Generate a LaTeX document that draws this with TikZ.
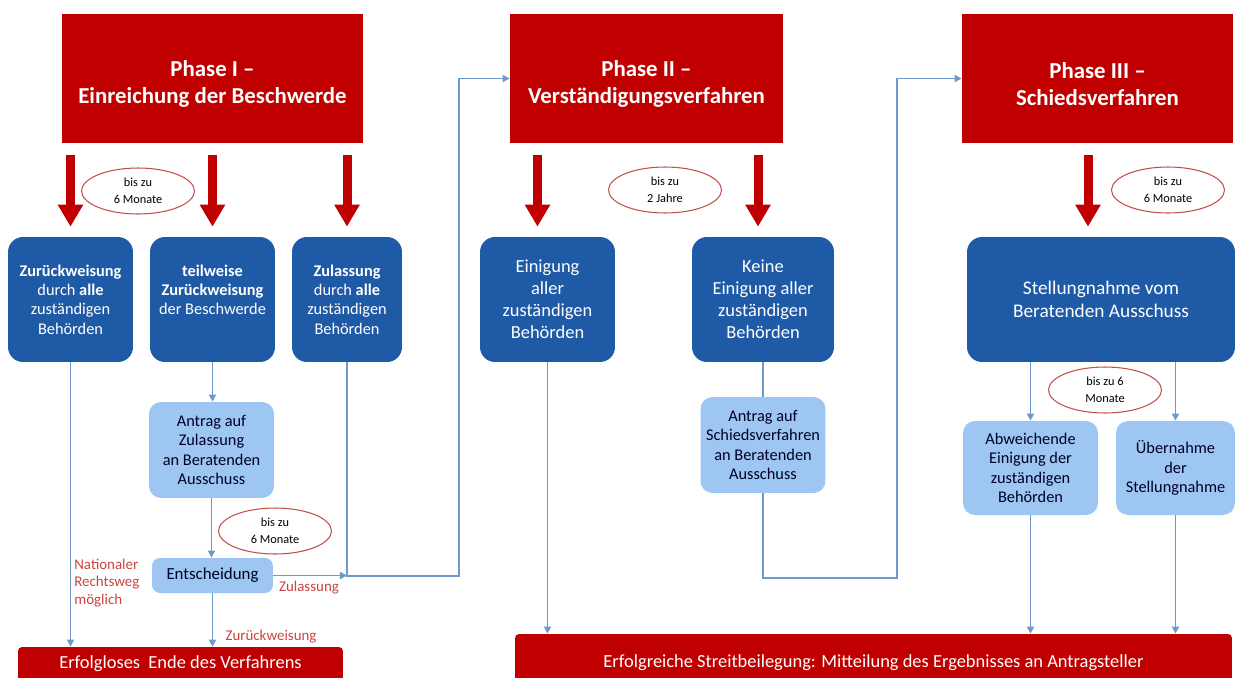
\documentclass[tikz,border=0pt]{standalone}
\usepackage{fontspec}
\setmainfont{Carlito}
\usetikzlibrary{positioning,calc,shapes.geometric,arrows.meta}

\definecolor{phasered}{HTML}{C00000}
\definecolor{darkblue}{HTML}{1F5AA6}
\definecolor{lightblue}{HTML}{9DC6F2}
\definecolor{linkblue}{HTML}{6E9ACB}
\definecolor{labelred}{HTML}{C9453F}
\definecolor{ovalred}{HTML}{C0504D}

\begin{document}
\begin{tikzpicture}[x=0.02cm, y=-0.02cm,
	phase/.style={fill=phasered, text=white, font=\bfseries\fontsize{13}{15.5}\selectfont, align=center, inner sep=2pt, minimum height=2.58cm},
	outcome/.style={fill=darkblue, text=white, rounded corners=0.3cm, align=center, font=\fontsize{9.3}{11}\selectfont, minimum height=2.5cm, inner sep=2pt},
	request/.style={fill=lightblue, text=black!85!blue, rounded corners=0.24cm, align=center, font=\fontsize{9.3}{11}\selectfont, inner sep=2pt},
	result/.style={fill=phasered, text=white, rounded corners=0.08cm, font=\fontsize{10.5}{12}\selectfont},
	period/.style={ellipse, draw=ovalred, fill=white, line width=0.6pt, minimum width=2.26cm, minimum height=0.92cm, inner sep=0pt, align=center, font=\fontsize{7}{9.4}\selectfont},
	lbl/.style={text=labelred, font=\fontsize{8.5}{10}\selectfont, inner sep=0pt},
	bigarrow/.style={draw=phasered, line width=0.18cm, -{Triangle[width=0.48cm, length=0.44cm]}, shorten <=0.24cm, shorten >=0.2cm},
	link/.style={draw=linkblue, line width=0.9pt, -{Triangle[width=4pt, length=4pt]}}]
	\useasboundingbox (0,0) rectangle (1235,677);
	\fill[white] (0,0) rectangle (1235,677);

	% phases
	\node[phase, minimum width=6.02cm] (ph1) at (212.5,78.5) {\mbox{}\\Phase I --\\Einreichung der Beschwerde};
	\node[phase, minimum width=5.46cm] (ph2) at (646.5,78.5) {\mbox{}\\Phase II --\\Verständigungsverfahren};
	\node[phase, minimum width=5.42cm] (ph3) at (1097.5,78.5) {\mbox{}\\Phase III --\\Schiedsverfahren};

	% phase I
	\node[outcome, minimum width=2.5cm] (rej) at (70.5,299.5) {\textbf{Zurückweisung}\\durch \textbf{alle}\\zuständigen\\Behörden};
	\node[outcome, minimum width=2.5cm] (part) at (212.5,299.5) {\textbf{teilweise}\\\textbf{Zurückweisung}\\der Beschwerde\\~};
	\node[outcome, minimum width=2.2cm] (adm) at (347,299.5) {\textbf{Zulassung}\\durch \textbf{alle}\\zuständigen\\Behörden};
	\node[request, minimum width=2.5cm, minimum height=1.92cm] (reqadm) at (211.5,450) {Antrag auf\\Zulassung\\an Beratenden\\Ausschuss};
	\node[request, minimum width=2.42cm, minimum height=0.7cm, rounded corners=0.16cm, font=\fontsize{9.6}{11}\selectfont] (dec) at (212.5,575.5) {Entscheidung};
	\node[result, minimum width=6.5cm, minimum height=0.68cm] (fail) at (180.5,664) {Erfolgloses\ \ Ende des Verfahrens};

	% phase II
	\node[outcome, minimum width=2.7cm, font=\fontsize{10.5}{12.5}\selectfont] (agr) at (547.5,299.5) {Einigung\\aller\\zuständigen\\Behörden};
	\node[outcome, minimum width=2.84cm, font=\fontsize{10.5}{12.5}\selectfont] (noagr) at (763,299.5) {Keine\\Einigung aller\\zuständigen\\Behörden};
	\node[request, minimum width=2.5cm, minimum height=1.92cm] (reqarb) at (763,445) {Antrag auf\\Schiedsverfahren\\an Beratenden\\Ausschuss};

	% phase III
	\node[outcome, minimum width=5.36cm, font=\fontsize{11}{13}\selectfont] (opin) at (1101,299.5) {Stellungnahme vom\\Beratenden Ausschuss};
	\node[request, minimum width=2.7cm, minimum height=1.88cm] (dev) at (1030.5,468) {Abweichende\\Einigung der\\zuständigen\\Behörden};
	\node[request, minimum width=2.38cm, minimum height=1.88cm] (adopt) at (1175.5,468) {Übernahme\\der\\Stellungnahme};
	\node[result, minimum width=14.34cm, minimum height=1.16cm] (succ) at (873.5,663) {Erfolgreiche Streitbeilegung: Mitteilung des Ergebnisses an Antragsteller};

	% time limits
	\node[period] (t1) at (138,191) {bis zu\\6 Monate};
	\node[period] (t2) at (665,190) {bis zu\\2 Jahre};
	\node[period] (t3) at (1168,190) {bis zu\\6 Monate};
	\node[period] (t4) at (275,531) {bis zu\\6 Monate};
	\node[period] (t5) at (1105,390) {bis zu 6\\Monate};

	% labels
	\node[lbl, align=left, anchor=west] (natl) at (74,583) {Nationaler\\Rechtsweg\\möglich};
	\node[lbl] (lzul) at (309,588) {Zulassung};
	\node[lbl] (lrej) at (271,637) {Zurückweisung};

	\coordinate (bend1) at (459,576);
	\coordinate (bend2) at (897,578);

	% phase arrows
	\foreach \b in {rej, part, adm}
		\draw[bigarrow] (\b.north |- ph1.south) -- (\b.north);
	\draw[bigarrow] ($(agr.north |- ph2.south)+(-10,0)$) -- ($(agr.north)+(-10,0)$);
	\draw[bigarrow] ($(noagr.north |- ph2.south)+(-5,0)$) -- ($(noagr.north)+(-5,0)$);
	\draw[bigarrow] ($(opin.north |- ph3.south)+(-13,0)$) -- ($(opin.north)+(-13,0)$);

	% links
	\draw[link] (rej.south) -- (rej.south |- fail.north);
	\draw[link] (part.south) -- (part.south |- reqadm.north);
	\draw[link] (reqadm.south) -- (reqadm.south |- dec.north);
	\draw[link] (dec.south) -- (dec.south |- fail.north);
	\draw[link] (dec.east) -- (dec.east -| adm.south);
	\draw[link] (adm.south) |- (bend1) |- (ph2.west);
	\draw[link] (agr.south) -- (agr.south |- succ.north);
	\draw[link, -] (noagr.south) -- (reqarb.north);
	\draw[link] (reqarb.south) |- (bend2) |- (ph3.west);
	\draw[link] (opin.south -| dev.north) -- (dev.north);
	\draw[link] (opin.south -| adopt.north) -- (adopt.north);
	\draw[link] (dev.south) -- (dev.south |- succ.north);
	\draw[link] (adopt.south) -- (adopt.south |- succ.north);
\end{tikzpicture}
\end{document}
